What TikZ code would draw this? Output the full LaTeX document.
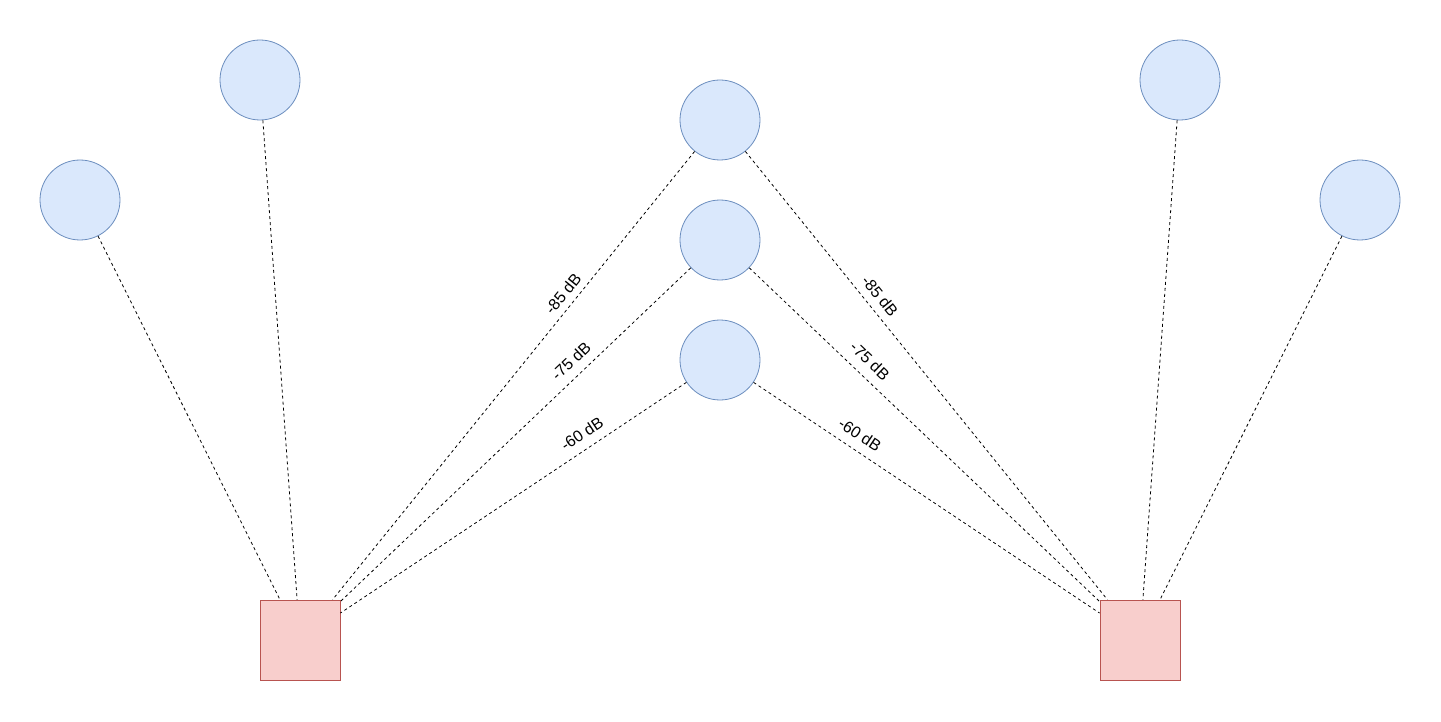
\documentclass[tikz,border=0pt]{standalone}
\usepackage{fontspec}
\setmainfont{Liberation Sans}
\begin{document}
\begin{tikzpicture}[x=1pt,y=-1pt,
  client/.style={circle, draw=blueedge, fill=bluefill, line width=0.8pt, minimum size=80pt, inner sep=0pt},
  ap/.style={rectangle, draw=rededge, fill=redfill, line width=0.8pt, minimum size=80pt, inner sep=0pt},
  link/.style={draw=black, line width=0.8pt, dash pattern=on 3pt off 3pt},
  lbl/.style={font=\fontsize{16pt}{18pt}\selectfont, inner sep=0pt}
]
\definecolor{bluefill}{HTML}{DAE8FC}
\definecolor{blueedge}{HTML}{6C8EBF}
\definecolor{redfill}{HTML}{F8CECC}
\definecolor{rededge}{HTML}{B85450}
\useasboundingbox (0,0) rectangle (1441,722);
\fill[white] (0,0) rectangle (1441,722);

\node[client] (c1) at (80,200) {};
\node[client] (c2) at (260,80) {};
\node[client] (c3) at (720,120) {};
\node[client] (c4) at (720,240) {};
\node[client] (c5) at (720,360) {};
\node[client] (c6) at (1180,80) {};
\node[client] (c7) at (1360,200) {};
\node[ap] (s1) at (300,640) {};
\node[ap] (s2) at (1140,640) {};

\draw[link] (c1) -- (s1);
\draw[link] (c2) -- (s1);
\draw[link] (c3) -- (s1);
\draw[link] (c4) -- (s1);
\draw[link] (c5) -- (s1);
\draw[link] (c3) -- (s2);
\draw[link] (c4) -- (s2);
\draw[link] (c5) -- (s2);
\draw[link] (c6) -- (s2);
\draw[link] (c7) -- (s2);

\node[lbl, rotate=51.07] (l85) at (563,294) {-85 dB};
\node[lbl, rotate=43.60] (l75) at (571,361) {-75 dB};
\node[lbl, rotate=33.69] (l60) at (582,434) {-60 dB};
\node[lbl, rotate=-51.07] (r85) at (880,296) {-85 dB};
\node[lbl, rotate=-43.60] (r75) at (870,361) {-75 dB};
\node[lbl, rotate=-33.69] (r60) at (860,435) {-60 dB};
\end{tikzpicture}
\end{document}
